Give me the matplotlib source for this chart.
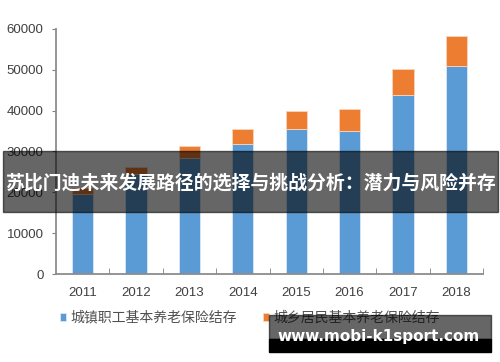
import matplotlib.pyplot as plt
from matplotlib.patches import Rectangle

# 数据
annees = ['2011', '2012', '2013', '2014', '2015', '2016', '2017', '2018']
urbain = [19500, 24400, 28300, 31800, 35400, 35000, 43800, 51000]
rural = [1500, 1900, 3100, 3700, 4400, 5400, 6400, 7200]
noms = ['城镇职工基本养老保险结存', '城乡居民基本养老保险结存']
yticks = [0, 10000, 20000, 30000, 40000, 50000, 60000]

BLEU = '#5B9BD5'
ORANGE = '#ED7D31'
GRIS = '#404040'
CJK = ['Noto Sans CJK SC', 'DejaVu Sans']

fig = plt.figure(figsize=(5, 3.62), dpi=100)
ax = fig.add_axes([0.112, 0.243, 0.854, 0.677])

x = list(range(len(annees)))
ax.bar(x, urbain, 0.4, color=BLEU, label=noms[0], edgecolor='#dbe8f5', linewidth=0.6)
ax.bar(x, rural, 0.4, bottom=urbain, color=ORANGE, label=noms[1], edgecolor='#f8d5bd', linewidth=0.6)

ax.set_xlim(-0.5, len(annees) - 0.5)
ax.set_ylim(0, 60000)
ax.set_yticks(yticks)
ax.set_yticklabels([str(v) for v in yticks], fontsize=9.5, color=GRIS, family='Liberation Sans')
ax.set_xticks(x)
ax.set_xticklabels(annees, fontsize=9.5, color=GRIS, family='Liberation Sans')
ax.set_xticks([i + 0.5 for i in x], minor=True)
ax.tick_params(axis='x', which='major', length=0, pad=9)
ax.tick_params(axis='x', which='minor', direction='in', length=4, color='#808080')
ax.tick_params(axis='y', length=3, color='#808080', pad=6)

for s in ['top', 'right']:
    ax.spines[s].set_visible(False)
for s in ['left', 'bottom']:
    ax.spines[s].set_color('#8c8c8c')
    ax.spines[s].set_linewidth(1.3)

leg = ax.legend(loc='center', bbox_to_anchor=(0.5, 0.122), bbox_transform=fig.transFigure,
                ncol=2, frameon=False, handlelength=0.45, handleheight=0.45,
                handletextpad=0.3, columnspacing=1.9, prop={'family': CJK, 'size': 10})
for t in leg.get_texts():
    t.set_color('#505050')

# bandeau du titre
fig.patches.append(Rectangle((3 / 500, 1 - 212 / 362), 495 / 500, 61 / 362,
                             transform=fig.transFigure, color='black', alpha=0.6, zorder=10))
fig.text(0.5, 1 - 183 / 362, '苏比门迪未来发展路径的选择与挑战分析：潜力与风险并存',
         ha='center', va='center', color='white', fontsize=13.6, weight='bold',
         family=CJK, zorder=11)

# bandeau du bas
fig.patches.append(Rectangle((269 / 500, 1 - 339 / 362), 222 / 500, 24 / 362,
                             transform=fig.transFigure, color='black', alpha=0.6, zorder=10))
fig.patches.append(Rectangle((269 / 500, 1 - 352 / 362), 222 / 500, 13 / 362,
                             transform=fig.transFigure, color='black', zorder=10))
fig.text(379 / 500, 1 - 337 / 362, 'www.mobi-k1sport.com', ha='center', va='center',
         color='white', fontsize=11, weight='bold', family='DejaVu Sans', zorder=11)

fig.savefig('out.png', dpi=100)
